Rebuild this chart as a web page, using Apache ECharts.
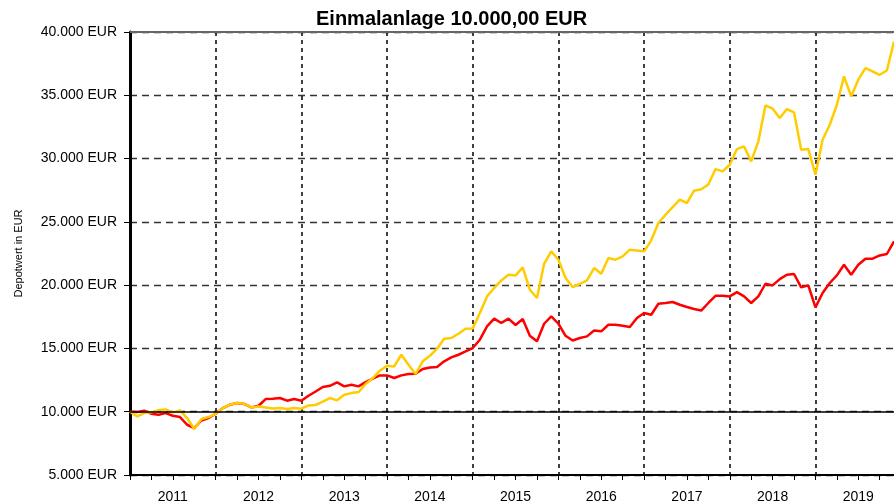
<!DOCTYPE html>
<html>
<head>
<meta charset="utf-8">
<script src="https://cdn.jsdelivr.net/npm/echarts@6/dist/echarts.min.js"></script>
<style>
  html, body { margin: 0; padding: 0; background: #fff; }
  #chart { width: 894px; height: 504px; }
</style>
</head>
<body>
<div id="chart"></div>
<script>
// monthly values, Jan 2011 - Dec 2019
const years = [2011, 2012, 2013, 2014, 2015, 2016, 2017, 2018, 2019];
const months = [];
years.forEach((y) => {
  for (let m = 1; m <= 12; m++) months.push(y + "-" + (m < 10 ? "0" + m : m));
});

const redValues = [
  10000, 9970, 10080, 9840, 9760, 9890, 9680, 9580, 8970, 8710, 9310, 9500,
  9840, 10290, 10550, 10690, 10610, 10340, 10470, 11000, 11030, 11080, 10870, 11000,
  10870, 11260, 11600, 11950, 12050, 12320, 12000, 12130, 12000, 12340, 12610, 12870,
  12870, 12660, 12870, 12980, 13000, 13370, 13500, 13530, 13980, 14290, 14500, 14760,
  15030, 15690, 16740, 17350, 17010, 17350, 16850, 17320, 16000, 15560, 16950, 17530,
  16950, 16000, 15630, 15820, 15950, 16420, 16350, 16870, 16870, 16790, 16690, 17400,
  17800, 17660, 18530, 18590, 18670, 18450, 18270, 18110, 17990, 18590, 19160, 19160,
  19110, 19450, 19110, 18590, 19110, 20110, 19980, 20480, 20820, 20880, 19820, 19980,
  18240, 19380, 20170, 20770, 21610, 20820, 21610, 22090, 22090, 22350, 22460, 23460
];

const yellowValues = [
  10000, 9630, 9890, 9950, 10130, 10180, 9950, 10100, 9500, 8630, 9420, 9580,
  9840, 10290, 10550, 10690, 10630, 10340, 10420, 10340, 10260, 10290, 10210, 10290,
  10240, 10500, 10530, 10790, 11080, 10900, 11340, 11470, 11550, 12190, 12660, 13240,
  13630, 13580, 14500, 13710, 12980, 13980, 14420, 14980, 15770, 15820, 16160, 16560,
  16580, 17800, 19110, 19770, 20370, 20820, 20770, 21400, 19640, 18980, 21690, 22670,
  22010, 20560, 19850, 20090, 20370, 21350, 20900, 22140, 22010, 22270, 22800, 22740,
  22670, 23540, 24910, 25560, 26170, 26750, 26490, 27460, 27570, 27950, 29170, 28990,
  29510, 30750, 30960, 29780, 31360, 34200, 33940, 33200, 33910, 33650, 30700, 30750,
  28720, 31490, 32670, 34250, 36490, 34910, 36230, 37150, 36880, 36620, 36960, 39250
];

const yTicks = [5000, 10000, 15000, 20000, 25000, 30000, 35000, 40000];
const startValue = 10000;

function eur(v) {
  return String(v).replace(/\B(?=(\d{3})+(?!\d))/g, ".") + " EUR";
}

const chart = echarts.init(document.getElementById("chart"));
chart.setOption({
  animation: false,
  title: {
    text: "Einmalanlage 10.000,00 EUR",
    left: 311,
    top: 4,
    textStyle: { fontFamily: "Liberation Sans", fontSize: 20, fontWeight: "bold", color: "#000" },
  },
  grid: { left: 130, right: 0, top: 32, bottom: 29, containLabel: false },
  xAxis: {
    type: "category",
    data: months,
    boundaryGap: false,
    axisLine: { lineStyle: { color: "#000", width: 2 } },
    axisTick: {
      show: true,
      length: 5,
      interval: (i) => i % 3 === 0,
      lineStyle: { color: "#000", width: 1 },
    },
    axisLabel: {
      interval: (i) => i % 12 === 6,
      formatter: (v) => v.slice(0, 4),
      margin: 15,
      color: "#000",
      fontFamily: "Liberation Sans",
      fontSize: 14,
    },
    splitLine: {
      show: true,
      interval: (i) => i > 0 && i % 12 === 0,
      lineStyle: { color: "#000", width: 1.5, type: [4, 4] },
    },
  },
  yAxis: {
    type: "value",
    min: yTicks[0],
    max: yTicks[yTicks.length - 1],
    interval: 5000,
    name: "Depotwert in EUR",
    nameLocation: "middle",
    nameGap: 106,
    nameTextStyle: { color: "#000", fontFamily: "Liberation Sans", fontSize: 11 },
    axisLine: { show: true, lineStyle: { color: "#000", width: 3 } },
    axisTick: { show: true, length: 6, lineStyle: { color: "#000", width: 1 } },
    axisLabel: {
      formatter: eur,
      margin: 13,
      color: "#000",
      fontFamily: "Liberation Sans",
      fontSize: 14,
    },
    splitLine: { lineStyle: { color: "#333", width: 1.3, type: [7, 5] } },
  },
  series: [
    {
      name: "Depot A",
      type: "line",
      data: redValues,
      showSymbol: false,
      lineStyle: { color: "#ff0000", width: 2.5 },
      itemStyle: { color: "#ff0000" },
      markLine: {
        silent: true,
        symbol: "none",
        label: { show: false },
        data: [
          { yAxis: startValue, lineStyle: { color: "#000", width: 1.5, type: "solid" } },
          { yAxis: yTicks[yTicks.length - 1], lineStyle: { color: "#666", width: 2, type: "solid" } },
        ],
      },
    },
    {
      name: "Depot B",
      type: "line",
      data: yellowValues,
      showSymbol: false,
      lineStyle: { color: "#ffcc00", width: 2.5 },
      itemStyle: { color: "#ffcc00" },
    },
  ],
});
</script>
</body>
</html>
